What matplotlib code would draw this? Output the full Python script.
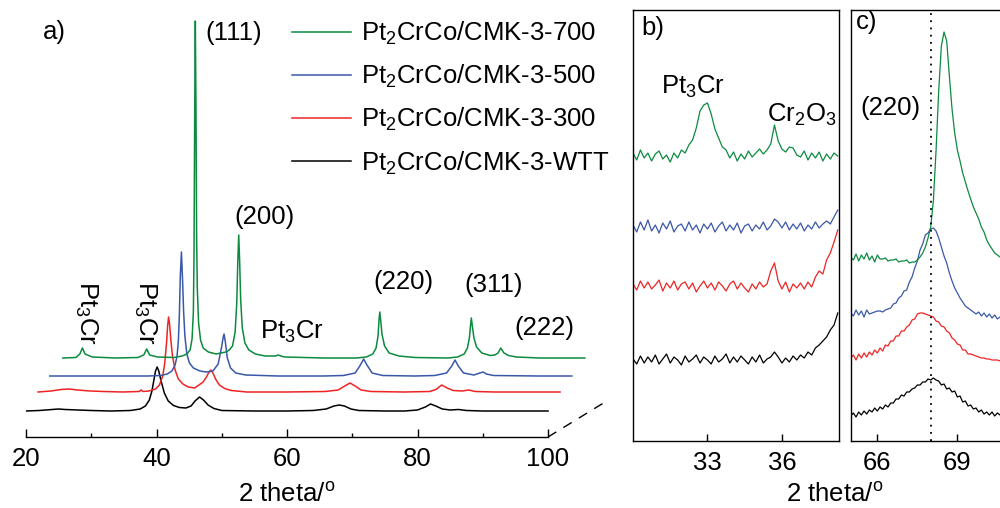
import numpy as np
import matplotlib
matplotlib.use('Agg')
from matplotlib import pyplot as plt

plt.rcParams['font.family'] = ['Liberation Sans', 'DejaVu Sans']
plt.rcParams['mathtext.fontset'] = 'custom'
plt.rcParams['mathtext.rm'] = 'Liberation Sans'
plt.rcParams['mathtext.it'] = 'Liberation Sans:italic'
plt.rcParams['mathtext.bf'] = 'Liberation Sans:bold'

# ---- data ----
samples = ['Pt$_2$CrCo/CMK-3-WTT', 'Pt$_2$CrCo/CMK-3-300',
           'Pt$_2$CrCo/CMK-3-500', 'Pt$_2$CrCo/CMK-3-700']
colors = ['black', '#ee2424', '#3a58a8', '#0c8a40']

# panel a: full patterns (2theta, intensity above own baseline, a.u.)
wtt_x = [20, 22, 24, 25, 26, 28, 30, 33, 36, 37.5, 38.3, 38.9, 39.3, 39.6, 39.85, 40.1, 40.35,
         40.7, 41.2, 41.8, 42.6, 43.5, 44.5, 45.3, 45.9, 46.6, 47.2, 47.9, 48.8, 50, 55, 60, 64,
         66, 67.2, 68.0, 68.8, 69.8, 71, 75, 78, 80, 81.2, 82.0, 82.8, 83.8, 85, 86.3, 87.5, 90,
         95, 100]
wtt_y = [0, 0.5, 1.5, 2, 1.5, 1, 0.5, 0, 0.5, 2, 5, 11, 20, 31, 40, 44, 40,
         30, 18, 10, 5.5, 3.5, 3, 5, 10, 14, 11, 6, 2.5, 0.5, 0, 0, 0.5,
         2, 5, 6, 5, 2, 0.5, 0, 0, 1, 4, 7, 5, 2, 1, 1.5, 0.5, 0,
         0, 0]

t300_x = [20, 22, 23.5, 24.8, 26, 28, 30, 33, 35.5, 35.8, 36.1, 37, 38, 38.6, 39.1, 39.4, 39.7,
          39.85, 40.0, 40.15, 40.35, 40.6, 41.0, 41.5, 42.2, 43, 44, 45.3, 45.8, 46.2, 46.5, 46.8,
          47.2, 47.8, 48.6, 49.6, 52, 58, 64, 66, 67.0, 67.8, 68.6, 69.5, 71, 76, 80, 81, 81.85,
          82.7, 83.6, 85, 86.0, 87, 90, 100]
t300_y = [0, 1, 2.5, 3, 2, 1, 0.5, 0, 0.5, 2, 0.5, 1, 3, 7, 16, 28, 50,
          66, 75, 68, 52, 36, 22, 13, 8, 5, 4, 10, 15, 20, 22, 19,
          13, 7, 3.5, 1.5, 0, 0, 0.5, 2, 6, 9, 6, 2, 0.5, 0, 0.5, 2.5, 7,
          4, 1.5, 1, 2, 0.5, 0, 0]

t500_x = [20, 25, 30, 35, 37, 38, 38.7, 39.2, 39.5, 39.7, 39.85, 40.0, 40.17, 40.35, 40.5, 40.7,
          41.0, 41.4, 42, 43, 44, 45, 45.8, 46.3, 46.55, 46.7, 46.9, 47.2, 47.7, 48.5, 50, 55,
          62, 65, 66.8, 67.6, 68.1, 68.6, 69.4, 71, 76, 79, 80.8, 81.6, 82.1, 82.6, 83.4, 85,
          85.9, 86.4, 86.9, 88, 95, 100]
t500_y = [0, 0, 0, 0, 0.5, 2, 5, 11, 20, 35, 60, 100, 124, 95, 65, 40,
          22, 13, 8, 5, 4, 5, 12, 28, 38, 42, 34, 18, 8, 3, 1, 0,
          0, 0.5, 3, 11, 17, 11, 3, 0.5, 0, 0.5, 3, 10, 16, 10, 3, 1,
          3, 4, 2, 0.5, 0, 0]

t700_x = [20, 22, 22.6, 23.0, 23.4, 24.5, 28, 31.5, 32.4, 32.85, 33.3, 34.5, 37, 38.3, 39.0,
          39.5, 39.8, 40.0, 40.1, 40.2, 40.3, 40.4, 40.5, 40.6, 40.8, 41.1, 41.5, 42.3, 43.5,
          45, 45.5, 46.0, 46.4, 46.65, 46.8, 46.95, 47.1, 47.25, 47.5, 47.9, 48.5, 49.5, 51,
          52.6, 53.0, 53.4, 54, 60, 65, 66.5, 67.5, 68.0, 68.3, 68.45, 68.57, 68.7, 68.9, 69.3,
          70, 71.5, 74, 79, 80.5, 81.5, 82.0, 82.3, 82.48, 82.6, 82.75, 83.0, 83.4, 84.2, 85.5,
          86.2, 86.7, 86.95, 87.1, 87.3, 87.6, 88.3, 89.5, 93, 100]
t700_y = [0, 0.5, 4, 10, 4, 1, 0, 0.5, 3, 9, 3, 1, 0.5, 2, 4,
          8, 19, 46, 104, 240, 337, 250, 120, 70, 35, 18, 10, 6, 4,
          6, 8, 12, 26, 55, 95, 123, 95, 58, 30, 15, 8, 4, 2,
          2, 3, 2, 1, 0, 0, 1, 4, 10, 22, 38, 46, 38, 24, 12,
          5, 2, 0.5, 0, 1, 4, 10, 20, 33, 40, 32, 20, 11, 5, 2.5,
          3, 5, 8, 10, 8, 5, 2.5, 1, 0, 0]

# panel b: 2theta 30.00 ... 38.25, step 0.15
b_wtt = [82, 77, 85, 78, 84, 79, 86, 77, 82, 87, 78, 84, 81, 76, 85, 79, 82, 86, 78, 84,
         81, 77, 85, 79, 82, 87, 78, 84, 79, 85, 81, 77, 84, 79, 86, 78, 82, 84,
         89, 84, 78, 83, 79, 85, 81, 86, 83, 89, 86, 93, 96, 100, 104, 111, 116, 128]
b_300 = [157, 151, 160, 153, 159, 152, 156, 161, 150, 158, 153, 160, 151, 157, 159, 152, 158,
         149, 155, 160, 153, 158, 151, 159, 155, 150, 157, 160, 152, 158, 153, 149, 157, 152,
         159, 154, 157, 170, 178, 160, 152, 159, 149, 157, 153, 158, 152, 159, 154, 164, 170,
         167, 181, 188, 199, 211]
b_500 = [216, 209, 219, 211, 221, 210, 216, 208, 218, 212, 220, 209, 215, 217, 210, 219, 211,
         216, 208, 217, 212, 218, 209, 215, 219, 210, 216, 211, 218, 208, 215, 217, 210, 216,
         212, 219, 211, 215, 222, 219, 213, 219, 211, 217, 212, 218, 210, 216, 212, 219, 213,
         217, 220, 217, 224, 231]
b_700 = [288, 281, 291, 283, 288, 280, 287, 290, 282, 286, 279, 288, 283, 291, 288, 296,
         301, 313, 330, 336, 338, 327, 312, 303, 294, 291, 283, 289, 280, 287, 282, 290, 284,
         288, 292, 287, 291, 297, 316, 300, 292, 289, 294, 293, 286, 284, 290, 281, 288, 283,
         289, 280, 287, 282, 288, 285]

# panel c: 2theta 65.0 ... 70.6, step 0.1
c_wtt = [25, 28, 24, 29, 26, 30, 27, 31, 29, 33, 30, 34, 32, 36, 34, 38, 38, 42, 42, 46,
         45, 49, 49, 52, 53, 56, 56, 59, 59, 62, 61, 63, 61, 60, 56, 57, 52, 53, 49, 50,
         44, 45, 39, 40, 35, 36, 32, 33, 29, 31, 27, 29, 26, 29, 25, 28, 26]
c_300 = [83, 86, 81, 87, 83, 88, 84, 89, 86, 91, 88, 93, 90, 96, 95, 100, 100, 105, 105, 110,
         110, 114, 116, 121, 122, 127, 128, 128, 127, 126, 125, 124, 120, 119, 115, 114, 110,
         108, 103, 101, 97, 96, 91, 91, 87, 87, 86, 85, 84, 83, 83, 82, 82, 81, 81, 81, 80]
c_500 = [128, 125, 131, 126, 130, 124, 131, 127, 128, 129, 130, 130, 129, 131, 132, 133,
         137, 138, 143, 145, 150, 151, 159, 164, 173, 180, 191, 197, 206, 208, 212, 213, 210,
         203, 194, 185, 178, 168, 160, 153, 148, 143, 139, 135, 133, 131, 129, 127, 129, 125,
         128, 124, 127, 123, 126, 122, 124]
c_700 = [184, 181, 187, 180, 186, 182, 188, 181, 185, 179, 186, 182, 182, 183, 180, 181,
         181, 182, 179, 180, 180, 181, 178, 179, 179, 181, 184, 188, 194, 203, 214, 240, 290,
         350, 395, 409, 400, 365, 332, 308, 291, 280, 268, 259, 250, 242, 234, 228, 222, 214,
         209, 201, 196, 192, 188, 186, 184]

# waterfall offsets for panel a (x shift, y shift)
shift_x = [0, 1.85, 3.65, 5.65]
shift_y = [26, 45, 61, 79]

fig = plt.figure(figsize=(10, 5.08), dpi=100)
fs = 18.5

# ---------------- panel a ----------------
axA = fig.add_axes([0.026, 71 / 508, 0.584, 427 / 508])
pats = [(wtt_x, wtt_y), (t300_x, t300_y), (t500_x, t500_y), (t700_x, t700_y)]
handles = []
for i, (px, py) in enumerate(pats):
    ln, = axA.plot(np.array(px) + shift_x[i], np.array(py) + shift_y[i],
                   color=colors[i], lw=1.1)
    handles.append(ln)
axA.set_xlim(20, 109.5)
axA.set_ylim(0, 427)
for s in ['left', 'right', 'top']:
    axA.spines[s].set_visible(False)
axA.spines['bottom'].set_bounds(20, 100)
axA.spines['bottom'].set_linewidth(1.0)
axA.set_yticks([])
axA.set_xticks([20, 40, 60, 80, 100])
axA.set_xticks([30, 50, 70, 90], minor=True)
axA.tick_params(axis='x', which='major', direction='in', length=5.5, width=1.0,
                labelsize=fs, pad=7)
axA.tick_params(axis='x', which='minor', direction='in', length=3, width=1.0)
# depth axis
axA.plot([100, 109.0], [0, 36], color='black', lw=1.0, ls=(0, (7, 6)))

axA.text(24.4, 405, 'a)', fontsize=fs, ha='center', va='center')
axA.text(51.9, 404, '(111)', fontsize=fs, ha='center', va='center')
axA.text(56.5, 220, '(200)', fontsize=fs, ha='center', va='center')
axA.text(77.8, 155, '(220)', fontsize=fs, ha='center', va='center')
axA.text(91.7, 152, '(311)', fontsize=fs, ha='center', va='center')
axA.text(99.4, 109, '(222)', fontsize=fs, ha='center', va='center')
axA.text(60.8, 105, 'Pt$_3$Cr', fontsize=fs, ha='center', va='center')
axA.text(29.2, 124, 'Pt$_3$Cr', fontsize=fs, ha='center', va='center', rotation=270)
axA.text(38.2, 124, 'Pt$_3$Cr', fontsize=fs, ha='center', va='center', rotation=270)

fig.legend(handles[::-1], samples[::-1], loc='upper left',
           bbox_to_anchor=(0.292, 1 - 20 / 508), frameon=False, fontsize=fs,
           handlelength=2.3, handletextpad=0.4, labelspacing=0.62,
           borderpad=0, borderaxespad=0)

fig.text(0.287, 1 - 495 / 508, '2 theta/$^\\mathrm{o}$', fontsize=fs,
         ha='center', va='center')

# ---------------- panel b ----------------
axB = fig.add_axes([0.633, 67 / 508, 0.206, 431 / 508])
tt_b = np.round(30 + 0.15 * np.arange(len(b_wtt)), 2)
for i, yy in enumerate([b_wtt, b_300, b_500, b_700]):
    axB.plot(tt_b, yy, color=colors[i], lw=0.9)
axB.set_xlim(30, 38.3)
axB.set_ylim(0, 431)
axB.set_yticks([])
axB.set_xticks([33, 36])
axB.tick_params(axis='x', direction='in', length=5, width=1.0, labelsize=fs, pad=7)
axB.text(30.8, 413, 'b)', fontsize=fs, ha='center', va='center')
axB.text(32.4, 354, 'Pt$_3$Cr', fontsize=fs, ha='center', va='center')
axB.text(36.8, 326, 'Cr$_2$O$_3$', fontsize=fs, ha='center', va='center')

# ---------------- panel c ----------------
axC = fig.add_axes([0.8507, 67 / 508, 0.16, 431 / 508])
tt_c = np.round(65 + 0.1 * np.arange(len(c_wtt)), 2)
for i, yy in enumerate([c_wtt, c_300, c_500, c_700]):
    axC.plot(tt_c, yy, color=colors[i], lw=0.9)
axC.axvline(68.0, color='black', lw=1.3, ls=(0, (1, 3)))
axC.set_xlim(65, 71)
axC.set_ylim(0, 431)
axC.set_yticks([])
axC.set_xticks([66, 69])
axC.tick_params(axis='x', direction='in', length=5, width=1.0, labelsize=fs, pad=7)
axC.text(65.6, 419, 'c)', fontsize=fs, ha='center', va='center')
axC.text(66.5, 333, '(220)', fontsize=fs, ha='center', va='center')

for ax in (axB, axC):
    for s in ax.spines.values():
        s.set_linewidth(1.0)

fig.text(0.835, 1 - 495 / 508, '2 theta/$^\\mathrm{o}$', fontsize=fs,
         ha='center', va='center')

fig.savefig('out.png', dpi=100)
